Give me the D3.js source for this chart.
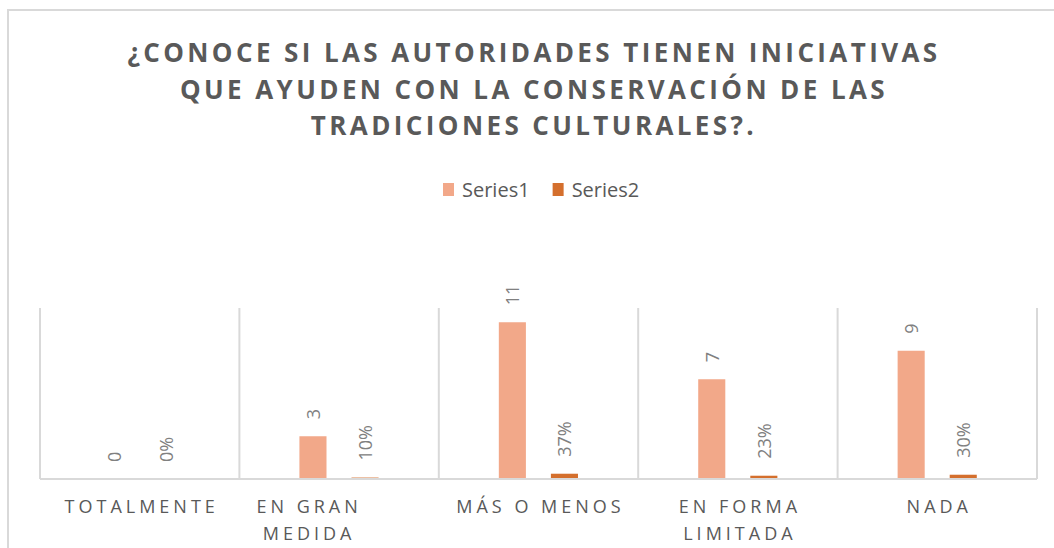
<!DOCTYPE html>
<html>
<head>
<meta charset="utf-8">
<script src="https://cdn.jsdelivr.net/npm/d3@7"></script>
<style>
  html, body { margin: 0; padding: 0; background: #fff; }
  svg { display: block; }
</style>
</head>
<body>
<svg id="chart" width="1054" height="548"></svg>
<script>
// ---- data ----
const titleLines = [
  "¿CONOCE SI LAS AUTORIDADES TIENEN INICIATIVAS",
  "QUE AYUDEN CON LA CONSERVACIÓN DE LAS",
  "TRADICIONES CULTURALES?."
];
const categories = ["TOTALMENTE", "EN GRAN MEDIDA", "MÁS O MENOS", "EN FORMA LIMITADA", "NADA"];
const seriesNames = ["Series1", "Series2"];
const series1 = [0, 3, 11, 7, 9];
const series2 = [0, 0.10, 0.37, 0.23, 0.30];
const yMax = 12;

// ---- layout ----
const W = 1054, H = 548;
const plot = { left: 40, right: 1037, top: 308, bottom: 479 };
const colors = { Series1: "#F2A889", Series2: "#D46F2D" };
const grid = "#D9D9D9";
const FONT = "'Open Sans', sans-serif";
const labelShift = { "EN GRAN MEDIDA": -32 };

const svg = d3.select("#chart");

// chart border
svg.append("rect")
  .attr("x", 8).attr("y", 10)
  .attr("width", 1070).attr("height", 580)
  .attr("fill", "#fff").attr("stroke", grid).attr("stroke-width", 2);

// title
svg.append("text")
  .attr("text-anchor", "middle")
  .attr("font-family", FONT).attr("font-weight", 700)
  .attr("font-size", 26).attr("letter-spacing", 3.4)
  .attr("fill", "#595959")
  .selectAll("tspan").data(titleLines).join("tspan")
  .attr("x", 534).attr("y", (d, i) => 62 + i * 36.5)
  .text(d => d);

// legend
const legend = svg.append("g").attr("font-family", FONT).attr("font-size", 20).attr("fill", "#595959");
let lx = 443;
seriesNames.forEach(name => {
  legend.append("rect").attr("x", lx).attr("y", 183).attr("width", 11).attr("height", 13).attr("fill", colors[name]);
  const t = legend.append("text").attr("x", lx + 19).attr("y", 197).text(name);
  lx += 19 + t.node().getComputedTextLength() + 23;
});

// scales
const x0 = d3.scaleBand().domain(categories).range([plot.left, plot.right]).padding(0);
const bw = x0.bandwidth();
const x1 = d3.scaleBand().domain(seriesNames).range([bw * 0.301, bw * 0.698]).paddingInner(0.48).paddingOuter(0);
const y = d3.scaleLinear().domain([0, yMax]).range([plot.bottom, plot.top]);

// vertical gridlines (category separators)
const seps = categories.map(c => x0(c)).concat([x0(categories[categories.length - 1]) + bw]);
svg.append("g").selectAll("line").data(seps).join("line")
  .attr("x1", d => d).attr("x2", d => d)
  .attr("y1", y(yMax)).attr("y2", y(0))
  .attr("stroke", grid).attr("stroke-width", 2);

// bars
const rows = categories.map((c, i) => ({ cat: c, vals: [
  { s: "Series1", v: series1[i], label: d3.format("d")(series1[i]) },
  { s: "Series2", v: series2[i], label: d3.format(".0%")(series2[i]) }
]}));

const groups = svg.append("g").selectAll("g").data(rows).join("g")
  .attr("transform", d => `translate(${x0(d.cat)},0)`);

groups.selectAll("rect").data(d => d.vals).join("rect")
  .attr("x", d => x1(d.s)).attr("width", x1.bandwidth())
  .attr("y", d => y(d.v)).attr("height", d => y(0) - y(d.v))
  .attr("fill", d => colors[d.s]);

// data labels
groups.selectAll("text").data(d => d.vals).join("text")
  .attr("transform", d => `translate(${x1(d.s) + x1.bandwidth() / 2},${y(d.v) - 17}) rotate(-90)`)
  .attr("text-anchor", "start").attr("dominant-baseline", "central")
  .attr("font-family", FONT).attr("font-size", 18).attr("fill", "#808080")
  .text(d => d.label);

// x axis line
svg.append("line")
  .attr("x1", plot.left).attr("x2", plot.right)
  .attr("y1", y(0)).attr("y2", y(0))
  .attr("stroke", grid).attr("stroke-width", 2);

// x axis labels
const xAxis = d3.axisBottom(x0).tickSize(0).tickPadding(0);
const ax = svg.append("g").attr("transform", `translate(0,${y(0)})`).call(xAxis);
ax.select(".domain").remove();
ax.selectAll(".tick text")
  .attr("font-family", FONT).attr("font-size", 18)
  .attr("letter-spacing", 4).attr("fill", "#595959")
  .attr("y", 0).attr("dy", null)
  .each(function(d) {
    const el = d3.select(this);
    const words = d.split(" ");
    el.text(null);
    const maxW = bw - 10;
    let lines = [], cur = [];
    const probe = el.append("tspan");
    words.forEach(w => {
      const test = cur.concat([w]).join(" ");
      probe.text(test);
      if (probe.node().getComputedTextLength() > maxW && cur.length) {
        lines.push(cur.join(" "));
        cur = [w];
      } else cur.push(w);
    });
    lines.push(cur.join(" "));
    probe.remove();
    const dx = 2 + (labelShift[d] || 0);
    lines.forEach((ln, i) => {
      el.append("tspan").attr("x", dx).attr("y", 34 + i * 27).text(ln);
    });
  });
</script>
</body>
</html>
